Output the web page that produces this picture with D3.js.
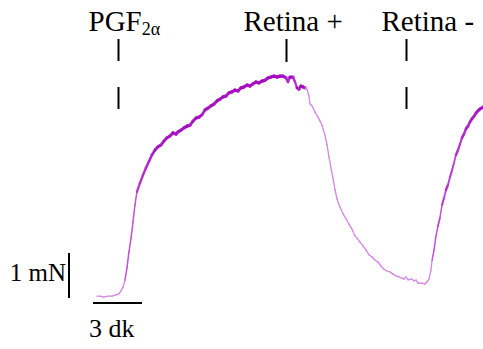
<!DOCTYPE html>
<html>
<head>
<meta charset="utf-8">
<script src="https://cdn.jsdelivr.net/npm/d3@7"></script>
<style>
  html, body { margin: 0; padding: 0; background: #fff; }
  svg { display: block; }
  text { font-family: "Liberation Serif", "Times New Roman", serif; fill: #000; }
</style>
</head>
<body>
<svg id="chart" width="483" height="349"></svg>
<script>
// Isometric tension recording: time in minutes, tension in mN
const timeMin = [
  0.24, 0.43, 0.67, 0.92, 1.16, 1.41, 1.59, 1.71, 1.84, 1.96, 2.08, 2.20, 2.33, 2.45, 2.57, 2.69,
  2.88, 3.06, 3.24, 3.43, 3.61, 3.80, 3.98, 4.16, 4.35, 4.53, 4.71, 4.90, 5.08, 5.20, 5.39, 5.57,
  5.76, 5.94, 6.12, 6.31, 6.49, 6.67, 6.86, 7.04, 7.22, 7.41, 7.59, 7.78, 7.96, 8.14, 8.33, 8.51,
  8.69, 8.88, 9.06, 9.24, 9.43, 9.61, 9.80, 9.98, 10.16, 10.35, 10.53, 10.71, 10.90, 11.08, 11.27,
  11.45, 11.63, 11.82, 11.94, 12.06, 12.24, 12.37, 12.49, 12.61, 12.73, 12.86, 12.98, 13.10, 13.22,
  13.29, 13.41, 13.59, 13.78, 13.90, 14.02, 14.20, 14.33, 14.45, 14.57, 14.69, 14.82, 14.94, 15.12,
  15.31, 15.49, 15.67, 15.86, 16.04, 16.16, 16.35, 16.53, 16.71, 16.90, 17.08, 17.27, 17.45, 17.63,
  17.82, 18.00, 18.18, 18.37, 18.55, 18.73, 18.92, 19.04, 19.16, 19.29, 19.41, 19.53, 19.65, 19.78,
  19.90, 20.02, 20.14, 20.33, 20.45, 20.57, 20.69, 20.76, 20.88, 21.00, 21.12, 21.24, 21.37, 21.49,
  21.61, 21.73, 21.86, 21.98, 22.10, 22.22, 22.35, 22.47, 22.59, 22.71, 22.84, 22.96, 23.08, 23.20,
  23.33, 23.45, 23.57, 23.69, 23.88
];
const tensionMN = [
  0.04, 0.04, 0.02, 0.04, 0.04, 0.07, 0.09, 0.16, 0.24, 0.40, 0.67, 1.02, 1.33, 1.69, 2.07, 2.36,
  2.56, 2.73, 2.89, 3.04, 3.18, 3.29, 3.36, 3.40, 3.49, 3.56, 3.60, 3.67, 3.64, 3.69, 3.73, 3.78,
  3.82, 3.84, 3.93, 4.00, 4.02, 4.07, 4.18, 4.22, 4.27, 4.31, 4.38, 4.42, 4.47, 4.49, 4.56, 4.58,
  4.62, 4.60, 4.67, 4.69, 4.73, 4.71, 4.76, 4.80, 4.78, 4.82, 4.84, 4.89, 4.91, 4.93, 4.91,
  4.93, 4.93, 4.89, 4.80, 4.91, 4.91, 4.80, 4.67, 4.64, 4.71, 4.69, 4.67, 4.64, 4.49,
  4.31, 4.27, 4.13, 4.02, 3.93, 3.84, 3.62, 3.40, 3.13, 2.89, 2.67, 2.40, 2.20, 2.02,
  1.87, 1.76, 1.64, 1.53, 1.38, 1.33, 1.24, 1.16, 1.07, 0.96, 0.91, 0.84, 0.80, 0.71,
  0.64, 0.60, 0.58, 0.53, 0.49, 0.47, 0.44, 0.42, 0.47, 0.40, 0.42, 0.42, 0.38, 0.40,
  0.33, 0.33, 0.33, 0.31, 0.36, 0.42, 0.62, 0.84, 1.07, 1.38, 1.60, 1.78, 2.07, 2.22,
  2.40, 2.51, 2.69, 2.84, 3.00, 3.18, 3.29, 3.42, 3.56, 3.64, 3.76, 3.82, 3.91, 3.98,
  4.04, 4.11, 4.16, 4.20, 4.24
];

// Drug / tissue application markers (minutes) and where each label starts relative to its marker
const eventNames = ["PGF", "Retina +", "Retina -"];
const eventTimes = [1.53, 11.82, 19.16];
const labelOffsets = [-30, -43, -25];

// Calibration bars
const scaleTimeMin = 3;
const scaleTimeLabel = "3 dk";
const scaleForceMN = 1;
const scaleForceLabel = "1 mN";

const svg = d3.select("#chart");

const x = d3.scaleLinear().domain([0, scaleTimeMin]).range([93, 142]);
const y = d3.scaleLinear().domain([0, scaleForceMN]).range([298, 253]);

const pts = timeMin.map((t, i) => ({ t, f: tensionMN[i] }));

// Pen trace: heavy ink on slow rise / plateau, faint thin ink while relaxing
const faintSpans = [[0, 1.9], [12.95, 20.75]];
const darkInk = "#a307bf", faintInk = "#d585e6";
function isFaint(t) { return faintSpans.some(([a, b]) => t >= a && t < b); }

const trace = svg.append("g").attr("fill", "none").attr("stroke-linecap", "round").attr("stroke-linejoin", "round");
for (let i = 0; i < pts.length - 1; i++) {
  const a = pts[i], b = pts[i + 1];
  const dx = x(b.t) - x(a.t), dy = y(b.f) - y(a.f);
  const steep = Math.abs(dy) / Math.max(dx, 0.1);
  let w, c;
  if (isFaint(a.t)) {
    w = 1.3; c = faintInk;
  } else {
    const k = Math.min(1, steep / 5);
    w = 3.3 - 1.8 * k;
    c = d3.interpolateRgb(darkInk, faintInk)(k * 0.6);
  }
  trace.append("line")
    .attr("x1", x(a.t)).attr("y1", y(a.f))
    .attr("x2", x(b.t)).attr("y2", y(b.f))
    .attr("stroke", c).attr("stroke-width", w);
}

// Event labels and dashed markers
const labelY = 31;
const evt = svg.append("g");
eventTimes.forEach((t, i) => {
  const cx = Math.round(x(t)) + 0.5;
  const g = evt.append("g");
  const txt = g.append("text").attr("x", cx + labelOffsets[i]).attr("y", labelY).attr("font-size", 29);
  if (i === 0) {
    txt.append("tspan").text(eventNames[i]);
    txt.append("tspan").attr("font-size", 18).attr("dy", 4).text("2α");
  } else {
    txt.text(eventNames[i]);
  }
  // upper dash always; lower dash only where the trace leaves room
  const dashes = i === 1 ? [[39, 62]] : [[39, 61], [87, 109]];
  dashes.forEach(([y1, y2]) => {
    g.append("line").attr("x1", cx).attr("x2", cx).attr("y1", y1).attr("y2", y2)
      .attr("stroke", "#000").attr("stroke-width", 2);
  });
});

// Calibration bars
const cal = svg.append("g").attr("stroke", "#000").attr("stroke-width", 2);
cal.append("line").attr("x1", 69).attr("x2", 69).attr("y1", y(scaleForceMN)).attr("y2", y(0));
cal.append("line").attr("x1", x(0)).attr("x2", x(scaleTimeMin)).attr("y1", 303).attr("y2", 303);

svg.append("text").attr("x", 66).attr("y", 281).attr("font-size", 25)
  .attr("text-anchor", "end").text(scaleForceLabel);
svg.append("text").attr("x", 89).attr("y", 337).attr("font-size", 26)
  .text(scaleTimeLabel);
</script>
</body>
</html>
